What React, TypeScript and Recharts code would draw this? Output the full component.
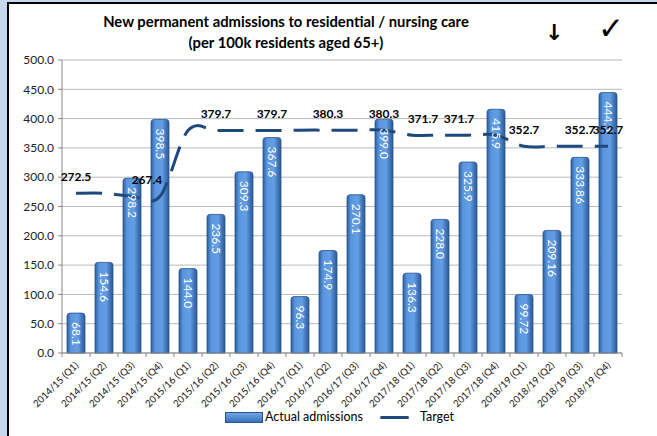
import React from "react";
import { ComposedChart, Bar, Line, XAxis, YAxis, CartesianGrid, LabelList } from "recharts";

const quarters = [
  "2014/15 (Q1)", "2014/15 (Q2)", "2014/15 (Q3)", "2014/15 (Q4)",
  "2015/16 (Q1)", "2015/16 (Q2)", "2015/16 (Q3)", "2015/16 (Q4)",
  "2016/17 (Q1)", "2016/17 (Q2)", "2016/17 (Q3)", "2016/17 (Q4)",
  "2017/18 (Q1)", "2017/18 (Q2)", "2017/18 (Q3)", "2017/18 (Q4)",
  "2018/19 (Q1)", "2018/19 (Q2)", "2018/19 (Q3)", "2018/19 (Q4)",
];
const actual = [
  68.1, 154.6, 298.2, 398.5,
  144.0, 236.5, 309.3, 367.6,
  96.3, 174.9, 270.1, 399.0,
  136.3, 228.0, 325.9, 415.9,
  99.72, 209.16, 333.86, 444.5,
];
const target = [
  272.5, 272.5, 267.4, 267.4,
  379.7, 379.7, 379.7, 379.7,
  380.3, 380.3, 380.3, 380.3,
  371.7, 371.7, 371.7, 371.7,
  352.7, 352.7, 352.7, 352.7,
];
// only these points carry a label on the target line
const targetLabelIdx = [0, 2, 5, 7, 9, 11, 12, 13, 16, 18, 19];
const yTicks = [0, 50, 100, 150, 200, 250, 300, 350, 400, 450, 500];

const data = quarters.map((q, i) => ({ q, actual: actual[i], target: target[i] }));

// a couple of labels were dragged sideways in the original
const labelNudge: { [i: number]: number } = { 2: 15, 12: 11, 13: 19 };

const FONT = "Lato, 'Open Sans', sans-serif";
const LINE = "#1f497d";

// roughly excel's "smoothed line"
const excelSmooth = (ctx: any) => {
  let pts: number[][] = [];
  return {
    areaStart() {},
    areaEnd() {},
    lineStart() { pts = []; },
    point(x: number, y: number) { pts.push([+x, +y]); },
    lineEnd() {
      const n = pts.length;
      if (!n) return;
      ctx.moveTo(pts[0][0], pts[0][1]);
      for (let i = 0; i < n - 1; i++) {
        const p0 = pts[Math.max(i - 1, 0)], p1 = pts[i], p2 = pts[i + 1], p3 = pts[Math.min(i + 2, n - 1)];
        ctx.bezierCurveTo(
          p1[0] + (p2[0] - p0[0]) / 6, p1[1] + (p2[1] - p0[1]) / 6,
          p2[0] - (p3[0] - p1[0]) / 6, p2[1] - (p3[1] - p1[1]) / 6,
          p2[0], p2[1]
        );
      }
    },
  };
};

const fmt = (v: number) => (Number.isInteger(v) ? v.toFixed(1) : String(v));

const BarLabel = (props: any) => {
  const { x, y, width, value } = props;
  const cx = x + width / 2;
  const ty = y + 9;
  return (
    <text x={cx} y={ty} transform={`rotate(90, ${cx}, ${ty})`} textAnchor="start" dominantBaseline="central"
      fill="#fff" fontSize={12} fontFamily={FONT}>
      {fmt(value)}
    </text>
  );
};

const TargetLabel = (props: any) => {
  const { x, y, value, index } = props;
  if (!targetLabelIdx.includes(index)) return null;
  return (
    <text x={x + (labelNudge[index] ?? 0)} y={y - 17} textAnchor="middle" dominantBaseline="central"
      fill="#000" fontSize={12} fontWeight="bold" fontFamily={FONT}>
      {value.toFixed(1)}
    </text>
  );
};

const XTick = (props: any) => {
  const { x, y, payload, index } = props;
  const half = 14;
  return (
    <g>
      <line x1={x - half} x2={x - half} y1={y} y2={y + 4} stroke="#888" />
      {index === quarters.length - 1 && <line x1={x + half} x2={x + half} y1={y} y2={y + 4} stroke="#888" />}
      <text x={x + 3} y={y + 13} transform={`rotate(-45, ${x + 3}, ${y + 13})`} textAnchor="end"
        fontSize={9.7} fontFamily={FONT} fill="#111">
        {payload.value}
      </text>
    </g>
  );
};

export default function App() {
  return (
    <div style={{ position: "absolute", left: 0, top: 0, width: 657, height: 436, overflow: "hidden", background: "#c6d9f1" }}>
      <div style={{ position: "absolute", left: 7, top: 2, right: -10, bottom: -10, background: "#fff", borderLeft: "2px solid #000", borderTop: "2px solid #000" }} />
      <div style={{ position: "absolute", left: 66, top: 11, width: 440, textAlign: "center", fontFamily: FONT, fontWeight: "bold", fontSize: 14.8, lineHeight: "21px", color: "#000" }}>
        New permanent admissions to residential / nursing care<br />(per 100k residents aged 65+)
      </div>
      <div style={{ position: "absolute", left: 545, top: 20, fontFamily: "'DejaVu Sans'", fontSize: 22, fontWeight: "bold" }}>↓</div>
      <div style={{ position: "absolute", left: 598, top: 10, fontFamily: "'DejaVu Sans'", fontSize: 31, fontWeight: "bold" }}>✓</div>

      <div style={{ position: "absolute", left: 0, top: 0 }}>
        <ComposedChart width={657} height={436} data={data} margin={{ top: 60, right: 35, left: 12, bottom: 23 }}>
          <defs>
            <linearGradient id="barFill" x1="0" y1="0" x2="1" y2="0">
              <stop offset="0%" stopColor="#2c5ea3" />
              <stop offset="22%" stopColor="#5a95dc" />
              <stop offset="60%" stopColor="#639fe5" />
              <stop offset="100%" stopColor="#2a5897" />
            </linearGradient>
          </defs>
          <CartesianGrid vertical={false} stroke="#b9b9b9" />
          <XAxis dataKey="q" interval={0} height={60} tickSize={0} tickMargin={0} tick={<XTick />} axisLine={{ stroke: "#888" }} tickLine={false} />
          <YAxis width={50} domain={[0, 500]} ticks={yTicks} tickFormatter={(v: number) => v.toFixed(1)} tickSize={4} tickMargin={4}
            axisLine={{ stroke: "#888" }} tickLine={{ stroke: "#888" }} tick={{ fontSize: 12, fontFamily: FONT, fill: "#222" }} />
          <Bar dataKey="actual" barSize={18} fill="url(#barFill)" stroke="#2a5590" strokeWidth={0.8} radius={[3, 3, 0, 0]} isAnimationActive={false}>
            <LabelList dataKey="actual" content={<BarLabel />} />
          </Bar>
          <Line dataKey="target" type={excelSmooth as any} stroke={LINE} strokeWidth={3} strokeDasharray="26 12" dot={false} isAnimationActive={false}>
            <LabelList dataKey="target" content={<TargetLabel />} />
          </Line>
        </ComposedChart>
      </div>

      <div style={{ position: "absolute", left: 225, top: 412, width: 38, height: 11, background: "linear-gradient(to bottom, #6ea6e6, #3a72bb)", border: "1px solid #2a5590", boxSizing: "border-box" }} />
      <div style={{ position: "absolute", left: 265, top: 409, fontFamily: FONT, fontSize: 12.5, color: "#000" }}>Actual admissions</div>
      <div style={{ position: "absolute", left: 380, top: 416, width: 29, height: 3, background: LINE, borderRadius: 2 }} />
      <div style={{ position: "absolute", left: 420, top: 409, fontFamily: FONT, fontSize: 12.5, color: "#000" }}>Target</div>
    </div>
  );
}
